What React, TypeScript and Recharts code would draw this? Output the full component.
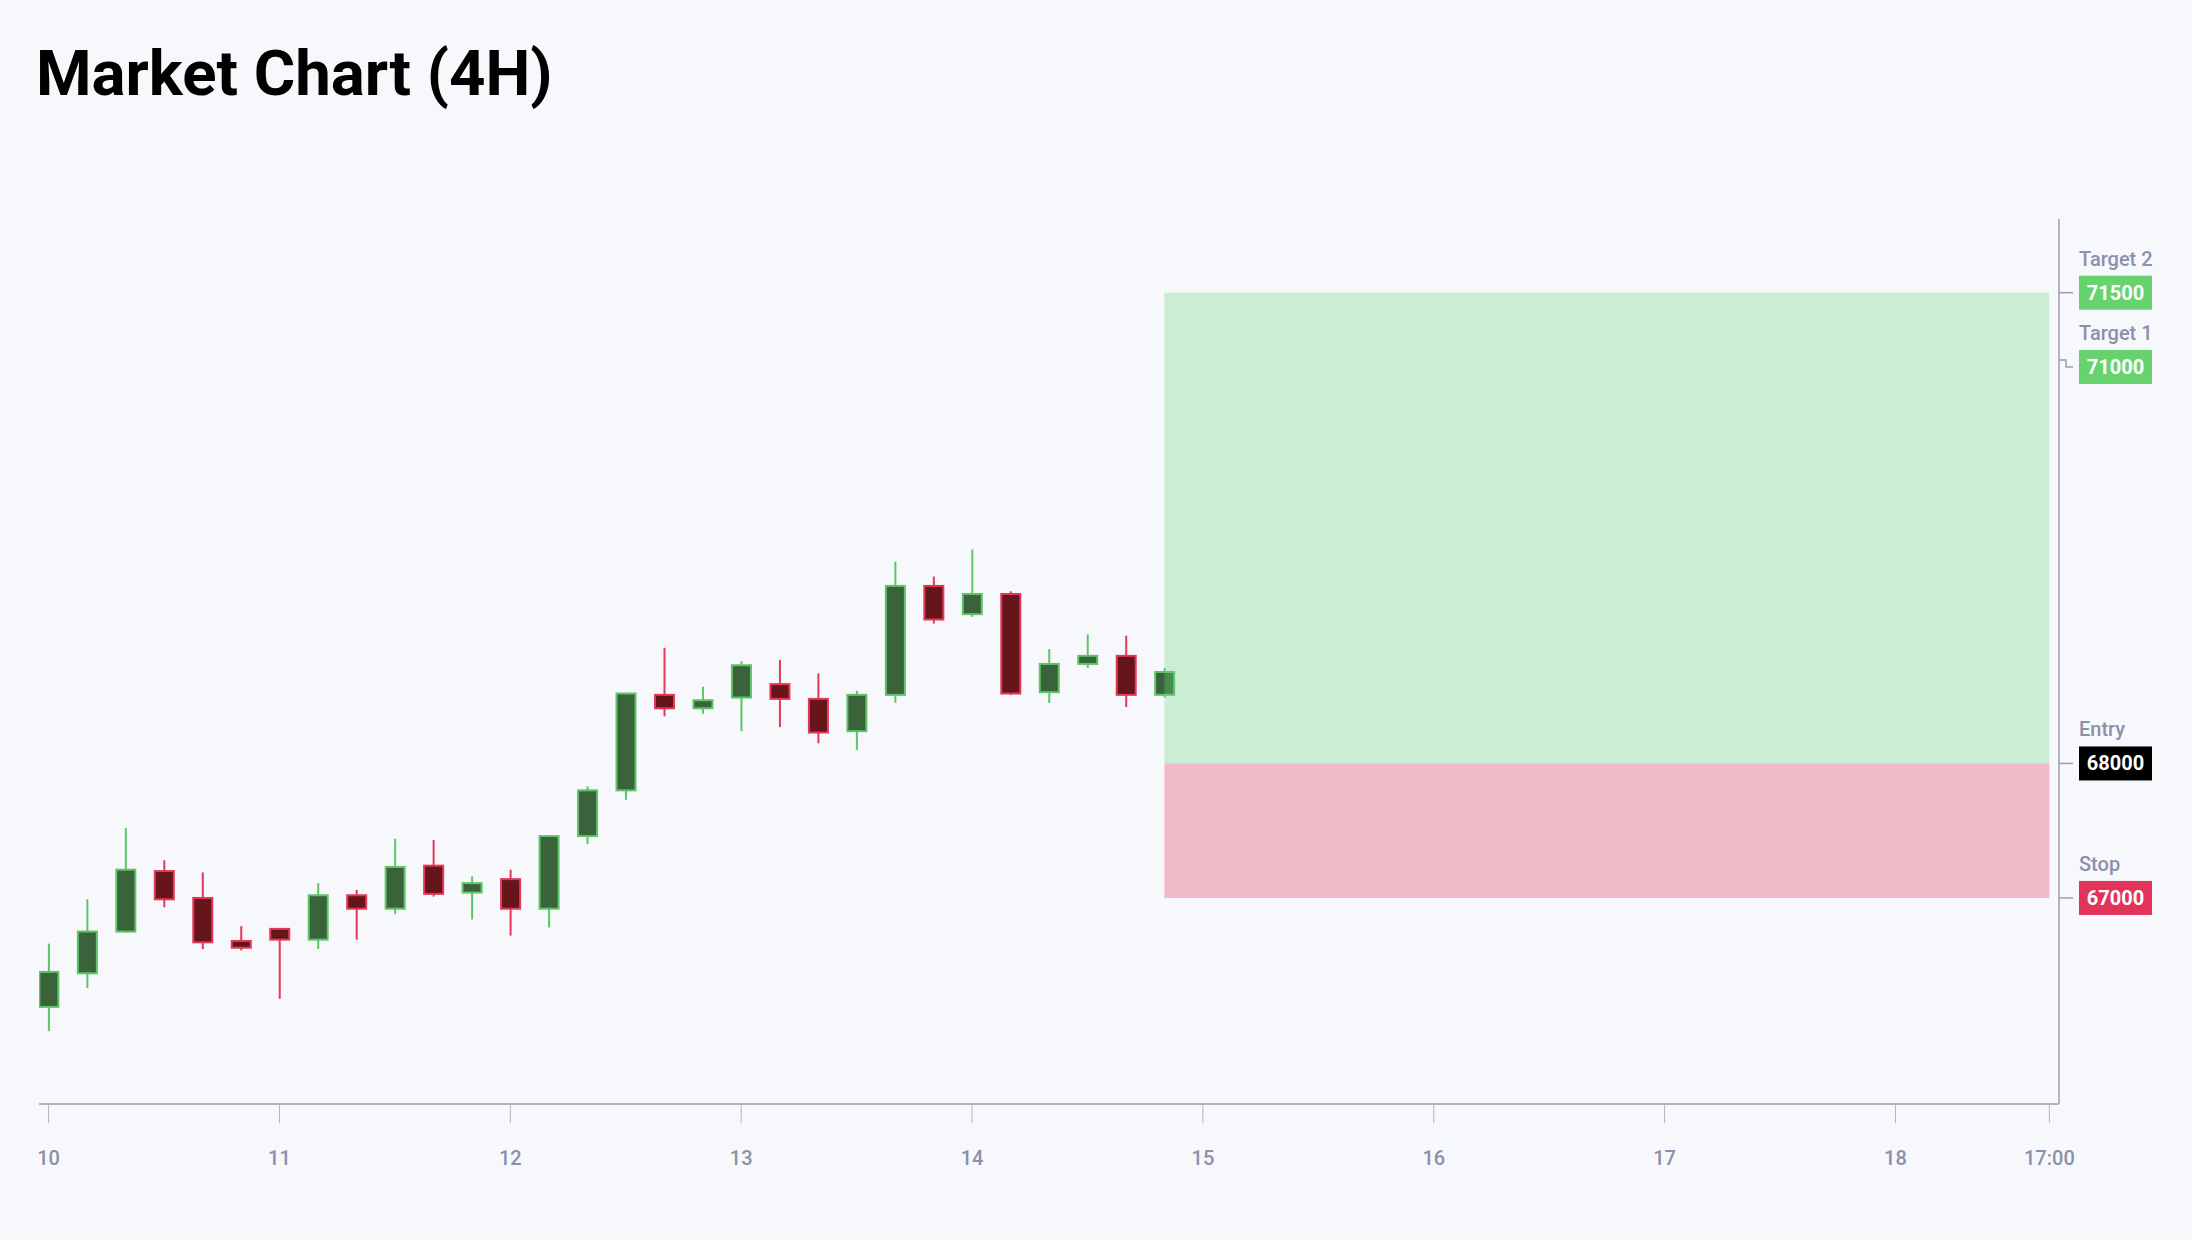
import React from "react";
import { ComposedChart, Bar, XAxis, YAxis, ReferenceArea } from "recharts";

// hours since day 10 00:00 (4H candles)
const HOURS = [0, 4, 8, 12, 16, 20, 24, 28, 32, 36, 40, 44, 48, 52, 56, 60, 64, 68, 72, 76, 80, 84, 88, 92, 96, 100, 104, 108, 112, 116];
const OPEN = [66190, 66440, 66750, 67200, 67000, 66680, 66770, 66690, 67020, 66920, 67240, 67040, 67140, 66920, 67460, 67800, 68510, 68410, 68490, 68590, 68480, 68240, 68510, 69320, 69110, 69260, 68530, 68740, 68800, 68510];
const HIGH = [66660, 66990, 67520, 67280, 67190, 66790, 66770, 67110, 67060, 67440, 67430, 67160, 67210, 67460, 67830, 68520, 68860, 68570, 68760, 68770, 68670, 68540, 69500, 69390, 69590, 69280, 68850, 68960, 68950, 68710];
const LOW = [66010, 66330, 66740, 66930, 66620, 66610, 66250, 66620, 66690, 66880, 67010, 66840, 66720, 66780, 67400, 67730, 68350, 68370, 68240, 68270, 68150, 68100, 68450, 69040, 69090, 68510, 68450, 68710, 68420, 68490];
const CLOSE = [66450, 66750, 67210, 66990, 66670, 66630, 66690, 67020, 66920, 67230, 67030, 67110, 66920, 67460, 67800, 68520, 68410, 68470, 68730, 68480, 68230, 68510, 69320, 69070, 69260, 68520, 68740, 68800, 68510, 68680];

const X_TICKS = [0, 24, 48, 72, 96, 120, 144, 168, 192, 208];
const X_TICK_LABELS = ["10", "11", "12", "13", "14", "15", "16", "17", "18", "17:00"];
const X_DOMAIN = [-1, 209];
const Y_DOMAIN = [65468, 72048];

const LEVEL_VALUES = [71500, 71000, 68000, 67000];
const LEVEL_NAMES = ["Target 2", "Target 1", "Entry", "Stop"];

const ENTRY = 68000;
const STOP = 67000;
const TARGET = 71500;
const POSITION_START = 116;
const POSITION_END = 208;

const data = HOURS.map((t, i) => ({
  t,
  open: OPEN[i],
  high: HIGH[i],
  low: LOW[i],
  close: CLOSE[i],
  range: [LOW[i], HIGH[i]],
}));

const LEVEL_COLORS = ["#66d36f", "#66d36f", "#000000", "#e2335b"];
const LEVEL_SHIFT = [0, 7, 0, 0];

const Candle = (props: any) => {
  const { x, y, width, height, payload } = props;
  if (!payload) return null;
  const { open, close, high, low } = payload;
  const top = Math.min(y, y + height);
  const h = Math.abs(height);
  const ratio = h / (high - low);
  const yOf = (v: number) => top + (high - v) * ratio;
  const up = close >= open;
  const cx = x + width / 2;
  const stroke = up ? "#5ec466" : "#e3375b";
  const fill = up ? "#3a633b" : "#66161a";
  const bodyTop = yOf(Math.max(open, close));
  const bodyBot = yOf(Math.min(open, close));
  const bw = 19;
  return (
    <g>
      <line x1={cx} x2={cx} y1={yOf(high)} y2={yOf(low)} stroke={stroke} strokeWidth={2} />
      <rect x={cx - bw / 2} y={bodyTop} width={bw} height={Math.max(bodyBot - bodyTop, 1)} fill={fill} stroke={stroke} strokeWidth={2} />
    </g>
  );
};

const LevelTick = (props: any) => {
  const { x, y, payload } = props;
  const idx = LEVEL_VALUES.indexOf(payload.value);
  if (idx < 0) return null;
  const shift = LEVEL_SHIFT[idx];
  const cy = y + shift;
  const linePath = shift === 0
    ? `M${x},${y}H${x + 14}`
    : `M${x},${y}H${x + 7}V${cy}H${x + 14}`;
  return (
    <g>
      <path d={linePath} stroke="#9a9db0" strokeWidth={1.5} fill="none" />
      <text x={x + 20} y={cy - 27} fill="#8c90aa" fontSize={20} fontWeight={500} fontFamily="Roboto">
        {LEVEL_NAMES[idx]}
      </text>
      <rect x={x + 20} y={cy - 17} width={73} height={34} fill={LEVEL_COLORS[idx]} />
      <text x={x + 56.5} y={cy + 7} fill="#ffffff" fontSize={20} fontWeight={700} textAnchor="middle" fontFamily="Roboto">
        {payload.value}
      </text>
    </g>
  );
};

export default function App() {
  return (
    <div style={{ position: "absolute", left: 0, top: 0, width: 2192, height: 1240, background: "#f6f8fc", overflow: "hidden" }}>
      <div
        style={{
          position: "absolute",
          left: 36,
          top: 42,
          fontFamily: "Roboto",
          fontWeight: 700,
          fontSize: 63.5,
          lineHeight: "63.5px",
          color: "#000",
          whiteSpace: "nowrap",
        }}
      >
        Market Chart (4H)
      </div>
      <div style={{ position: "absolute", left: 0, top: 0 }}>
        <ComposedChart
          width={2192}
          height={1240}
          data={data}
          margin={{ top: 219, right: 0, bottom: 56, left: 39 }}
        >
          <XAxis
            dataKey="t"
            type="number"
            domain={X_DOMAIN}
            ticks={X_TICKS}
            allowDataOverflow
            tickFormatter={(v: number) => X_TICK_LABELS[X_TICKS.indexOf(v)] ?? ""}
            axisLine={{ stroke: "#b3b5be", strokeWidth: 2 }}
            tickLine={{ stroke: "#b3b5be", strokeWidth: 1 }}
            tickSize={19}
            tickMargin={28}
            height={80}
            tick={{ fill: "#8c90aa", fontSize: 20, fontWeight: 500, fontFamily: "Roboto" }}
          />
          <YAxis
            orientation="right"
            type="number"
            domain={Y_DOMAIN}
            allowDataOverflow
            ticks={LEVEL_VALUES}
            interval={0}
            width={133}
            axisLine={{ stroke: "#b3b5be", strokeWidth: 2 }}
            tickLine={false}
            tickSize={0}
            tickMargin={0}
            tick={<LevelTick />}
          />
          <Bar dataKey="range" barSize={21} shape={<Candle />} isAnimationActive={false} />
          <ReferenceArea
            x1={POSITION_START}
            x2={POSITION_END}
            y1={ENTRY}
            y2={TARGET}
            fill="#70d782"
            fillOpacity={0.33}
            stroke="none"
            ifOverflow="visible"
            zIndex={350}
          />
          <ReferenceArea
            x1={POSITION_START}
            x2={POSITION_END}
            y1={STOP}
            y2={ENTRY}
            fill="#e33c5e"
            fillOpacity={0.33}
            stroke="none"
            ifOverflow="visible"
            zIndex={350}
          />
        </ComposedChart>
      </div>
    </div>
  );
}
